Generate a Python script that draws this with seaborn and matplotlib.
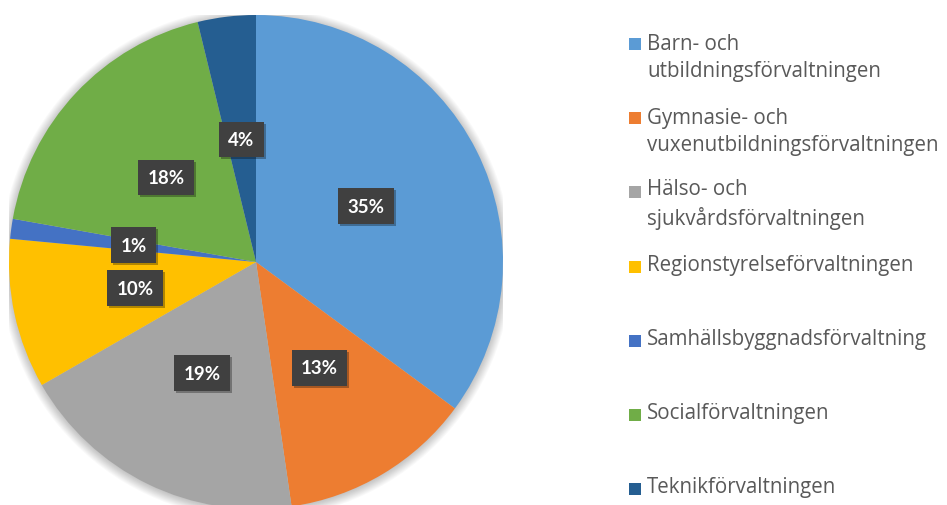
import matplotlib.pyplot as plt
import matplotlib.patches as mpatches
import matplotlib.transforms as mtransforms
import seaborn as sns

# andelar per förvaltning (procent), läst från diagrammet
forvaltningar = ["Barn- och\nutbildningsförvaltningen",
                 "Gymnasie- och\nvuxenutbildningsförvaltningen",
                 "Hälso- och\nsjukvårdsförvaltningen",
                 "Regionstyrelseförvaltningen",
                 "Samhällsbyggnadsförvaltning",
                 "Socialförvaltningen",
                 "Teknikförvaltningen"]
andelar = [35.1, 12.6, 19.0, 9.8, 1.3, 18.4, 3.8]
farger = ["#5B9BD5", "#ED7D31", "#A5A5A5", "#FFC000", "#4472C4", "#70AD47", "#255E91"]

sns.set_style("white")
plt.rcParams['font.family'] = ['Lato', 'DejaVu Sans']

fig = plt.figure(figsize=(9.47, 5.06), dpi=100)
ax = fig.add_axes([9/947, -4/506, 494/947, 494/506])
palette = sns.color_palette(farger)

# mjuk skugga runt cirkeln
for k in range(10):
    ax.add_patch(mpatches.Circle((0, -0.004), 1 + 0.004*k, fc='black', ec='none', alpha=0.025, zorder=0))

wedges, texts, autotexts = ax.pie(andelar, colors=palette, startangle=90, counterclock=False,
                                  autopct='%1.0f%%', pctdistance=0.5,
                                  wedgeprops=dict(linewidth=0),
                                  textprops=dict(color='white', fontsize=13.5, fontweight='bold'))

for t in autotexts:
    t.set_bbox(dict(boxstyle='square,pad=0.5', fc='#404040', ec='none'))
    t.set_zorder(4)

ax.set_xlim(-1, 1)
ax.set_ylim(-1, 1)
ax.set_aspect('equal')
ax.axis('off')

# skugga bakom etikettrutorna
fig.canvas.draw()
for t in autotexts:
    bb = t.get_bbox_patch().get_window_extent()
    ax.add_patch(mpatches.Rectangle((bb.x0 + 2, bb.y0 - 2), bb.width, bb.height,
                                    transform=mtransforms.IdentityTransform(),
                                    fc='black', ec='none', alpha=0.3, zorder=3))

# förklaring till höger
for i, (namn, farg) in enumerate(zip(forvaltningar, farger)):
    base = 48 + 74.2*i
    rader = namn.count("\n")
    fig.patches.append(mpatches.Rectangle((629/947, 1 - (base + 3)/506), 12/947, 12/506,
                                          transform=fig.transFigure, fc=farg, ec='none'))
    fig.text(647/947, 1 - (base + 29*rader)/506, namn, fontsize=14.8, color='#595959',
             family=['Open Sans', 'DejaVu Sans'],
             va='baseline', ha='left', linespacing=1.4)

plt.savefig("out.png", dpi=100)
